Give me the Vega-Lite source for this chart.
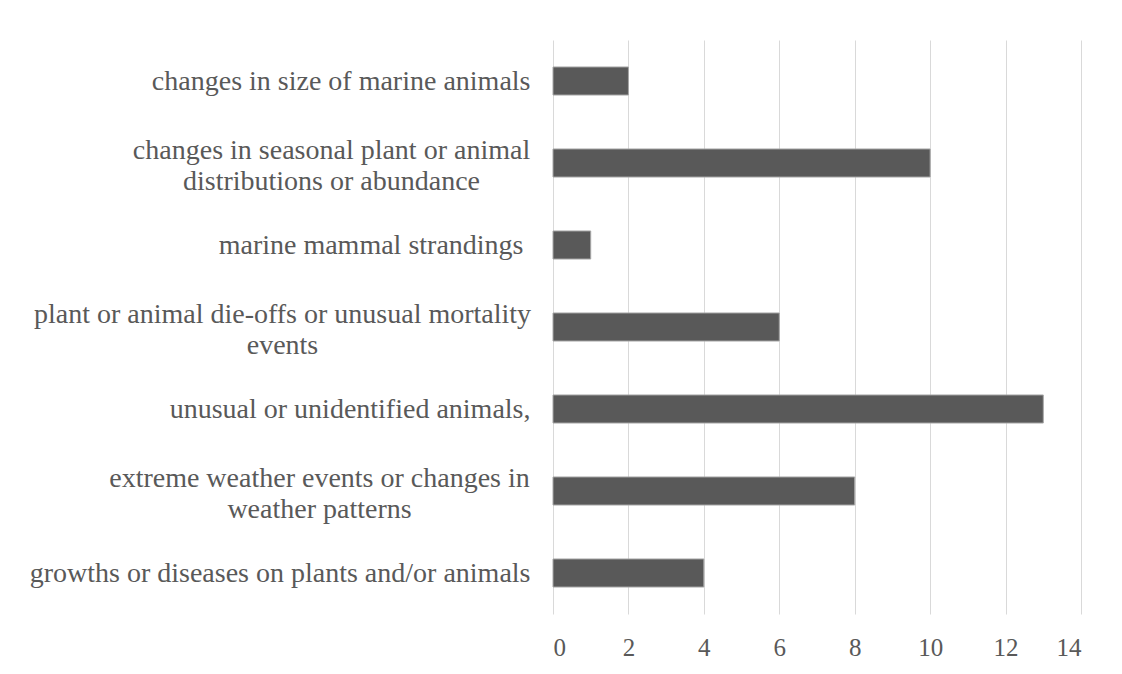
{
  "$schema": "https://vega.github.io/schema/vega-lite/v6.json",
  "autosize": {"type": "none"},
  "padding": {"left": 553, "top": 40, "right": 41, "bottom": 60},
  "width": 528,
  "height": 574,
  "background": "white",
  "config": {"view": {"stroke": null}, "font": "Liberation Serif"},
  "data": {
    "values": [
      {"category": "changes in size of marine animals", "count": 2},
      {"category": "changes in seasonal plant or animal distributions or abundance", "count": 10},
      {"category": "marine mammal strandings", "count": 1},
      {"category": "plant or animal die-offs or unusual mortality events", "count": 6},
      {"category": "unusual or unidentified animals,", "count": 13},
      {"category": "extreme weather events or changes in weather patterns", "count": 8},
      {"category": "growths or diseases on plants and/or animals", "count": 4}
    ]
  },
  "mark": {"type": "bar", "color": "#595959", "stroke": "#a6a6a6", "strokeWidth": 1},
  "encoding": {
    "y": {
      "field": "category",
      "type": "nominal",
      "sort": null,
      "title": null,
      "scale": {"paddingInner": 0.658, "paddingOuter": 0.329},
      "axis": {
        "domain": false,
        "ticks": false,
        "labelFont": "Liberation Serif",
        "labelFontSize": 28,
        "labelColor": "#595959",
        "labelLimit": 0,
        "labelLineHeight": 31,
        "labelBaseline": "middle",
        "labelAlign": {
          "condition": {"test": "datum.value == 'changes in seasonal plant or animal distributions or abundance' || datum.value == 'plant or animal die-offs or unusual mortality events' || datum.value == 'extreme weather events or changes in weather patterns'", "value": "center"},
          "value": "right"
        },
        "labelOffset": {
          "condition": {"test": "datum.value == 'changes in seasonal plant or animal distributions or abundance' || datum.value == 'plant or animal die-offs or unusual mortality events' || datum.value == 'extreme weather events or changes in weather patterns'", "value": -12},
          "value": 1
        },
        "labelPadding": {
          "condition": [
            {"test": "datum.value == 'changes in seasonal plant or animal distributions or abundance'", "value": 222},
            {"test": "datum.value == 'plant or animal die-offs or unusual mortality events'", "value": 271},
            {"test": "datum.value == 'extreme weather events or changes in weather patterns'", "value": 234},
            {"test": "datum.value == 'marine mammal strandings'", "value": 30}
          ],
          "value": 23
        },
        "labelExpr": "datum.value == 'changes in seasonal plant or animal distributions or abundance' ? ['changes in seasonal plant or animal', 'distributions or abundance'] : datum.value == 'plant or animal die-offs or unusual mortality events' ? ['plant or animal die-offs or unusual mortality', 'events'] : datum.value == 'extreme weather events or changes in weather patterns' ? ['extreme weather events or changes in', 'weather patterns'] : datum.value"
      }
    },
    "x": {
      "field": "count",
      "type": "quantitative",
      "title": null,
      "scale": {"domain": [0, 14], "nice": false},
      "axis": {
        "values": [0, 2, 4, 6, 8, 10, 12, 14],
        "domain": false,
        "ticks": false,
        "grid": true,
        "gridColor": "#d9d9d9",
        "gridWidth": 1,
        "labelFont": "Liberation Serif",
        "labelFontSize": 25,
        "labelColor": "#595959",
        "labelPadding": 21
      }
    }
  }
}
